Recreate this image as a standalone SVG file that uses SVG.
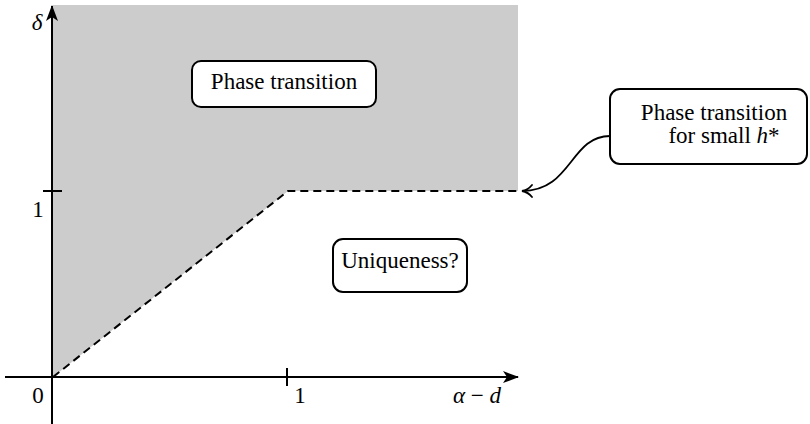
<svg xmlns="http://www.w3.org/2000/svg" width="810" height="424" viewBox="0 0 810 424">
<defs>
<marker id="ah" viewBox="0 0 16 12" refX="15" refY="6" markerWidth="16" markerHeight="12" markerUnits="userSpaceOnUse" orient="auto">
<path d="M0,0 L16,6 L0,12 L4,6 Z" fill="#000"/>
</marker>
<marker id="oh" viewBox="0 0 12 14" refX="11" refY="7" markerWidth="12" markerHeight="14" markerUnits="userSpaceOnUse" orient="auto">
<path d="M1,1 Q5,6 11,7 Q5,8 1,13" fill="none" stroke="#000" stroke-width="1.8" stroke-linecap="round"/>
</marker>
</defs>
<style>
text{font-family:'Liberation Serif','DejaVu Serif',serif;font-size:23px;fill:#000}
.m{font-style:italic}
.ax{stroke:#000;stroke-width:2;fill:none}
.box{fill:#fff;stroke:#000;stroke-width:2}
.dash{stroke:#000;stroke-width:2;stroke-dasharray:8 5;fill:none}
</style>
<g id="region">
<polygon points="53,5 518,5 518,191 288,191 53,377" fill="#cccccc"/>
</g>
<g id="connectors">
<line class="ax" x1="52" y1="424" x2="52" y2="6" marker-end="url(#ah)"/>
<line class="ax" x1="5" y1="377" x2="518" y2="377" marker-end="url(#ah)"/>
<line class="ax" x1="43" y1="191" x2="62" y2="191"/>
<line class="ax" x1="287" y1="368" x2="287" y2="386"/>
<polyline class="dash" points="53,377 288,191 518,191"/>
<path d="M610,136 C570,136 572,191 522,191" fill="none" stroke="#000" stroke-width="1.8" marker-end="url(#oh)"/>
</g>
<g id="labels">
<text class="m" x="37" y="30" text-anchor="middle">δ</text>
<text x="38" y="217" text-anchor="middle">1</text>
<text x="38" y="403" text-anchor="middle">0</text>
<text x="300" y="403" text-anchor="middle">1</text>
<text x="477" y="403" text-anchor="middle"><tspan class="m">α</tspan> − <tspan class="m">d</tspan></text>
</g>
<g id="node-phase">
<rect class="box" x="192" y="61" width="184" height="46" rx="9"/>
<text x="284" y="89" text-anchor="middle">Phase transition</text>
</g>
<g id="node-small-h">
<rect class="box" x="610" y="89" width="197" height="75" rx="10"/>
<text x="714" y="120" text-anchor="middle">Phase transition</text>
<text x="724" y="143" text-anchor="middle">for small <tspan class="m">h</tspan>*</text>
</g>
<g id="node-unique">
<rect class="box" x="333" y="239" width="134" height="53" rx="10"/>
<text x="400" y="268" text-anchor="middle">Uniqueness?</text>
</g>
</svg>
